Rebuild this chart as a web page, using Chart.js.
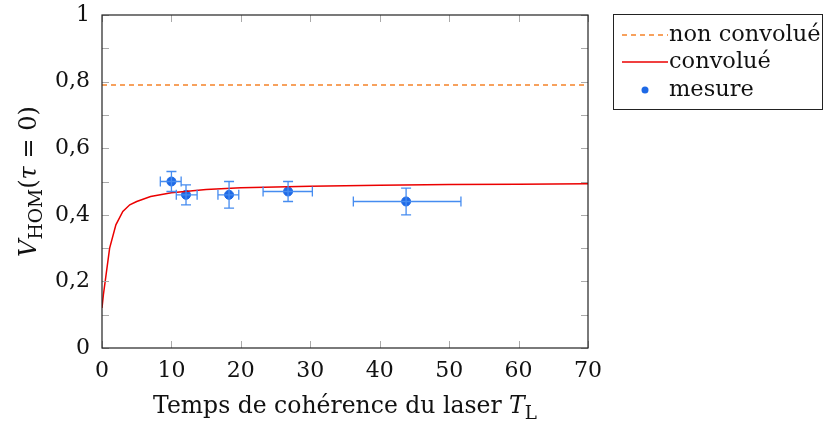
<!DOCTYPE html>
<html>
<head>
<meta charset="utf-8">
<script src="https://cdn.jsdelivr.net/npm/chart.js@4"></script>
<style>
  body { margin: 0; background: #fff; }
  #wrap { width: 825px; height: 427px; }
</style>
</head>
<body>
<div id="wrap"><canvas id="homChart"></canvas></div>
<script>
// values
const curveX = [0, 0.2, 1.1, 2, 3, 4, 5, 7, 10, 15, 20, 30, 40, 50, 60, 70];
const curveY = [0.12, 0.16, 0.30, 0.37, 0.41, 0.43, 0.44, 0.455, 0.466, 0.476, 0.481, 0.486, 0.489, 0.491, 0.492, 0.493];
const flatX = [0, 70];
const flatY = [0.79, 0.79];
const measX = [10.0, 12.1, 18.3, 26.8, 43.8];
const measY = [0.50, 0.46, 0.46, 0.47, 0.44];
const xErrLo = [8.4, 10.7, 16.7, 23.2, 36.2];
const xErrHi = [11.4, 13.7, 19.7, 30.3, 51.7];
const yErrLo = [0.47, 0.43, 0.42, 0.44, 0.40];
const yErrHi = [0.53, 0.49, 0.50, 0.50, 0.48];
const legendLabels = ['non convolué', 'convolué', 'mesure'];

const SERIF = '"DejaVu Serif", serif';
const ORANGE = 'rgb(245,130,40)';
const RED = 'rgb(235,0,0)';
const BLUE = 'rgb(30,105,230)';
const BLUE_BAR = 'rgb(70,140,240)';

function pts(xs, ys) {
  return xs.map((x, i) => ({ x: x, y: ys[i] }));
}

// draw text made of parts (italic / subscript), centred at x
function drawRich(ctx, parts, x, y, size) {
  const fontOf = p => (p.italic ? 'italic ' : '') + (p.sub ? size * 0.78 : size) + 'px ' + SERIF;
  let total = 0;
  parts.forEach(p => { ctx.font = fontOf(p); total += ctx.measureText(p.t).width; });
  let cx = x - total / 2;
  ctx.textAlign = 'left';
  ctx.textBaseline = 'alphabetic';
  parts.forEach(p => {
    ctx.font = fontOf(p);
    ctx.fillText(p.t, cx, p.sub ? y + size * 0.25 : y);
    cx += ctx.measureText(p.t).width;
  });
}

const errorBars = {
  id: 'errorBars',
  afterDatasetsDraw(chart) {
    const ctx = chart.ctx, xs = chart.scales.x, ys = chart.scales.y;
    ctx.save();
    ctx.strokeStyle = BLUE_BAR;
    ctx.lineWidth = 1.3;
    measX.forEach((mx, i) => {
      const px = xs.getPixelForValue(mx), py = ys.getPixelForValue(measY[i]);
      const x0 = xs.getPixelForValue(xErrLo[i]), x1 = xs.getPixelForValue(xErrHi[i]);
      const y0 = ys.getPixelForValue(yErrLo[i]), y1 = ys.getPixelForValue(yErrHi[i]);
      ctx.beginPath();
      ctx.moveTo(x0, py); ctx.lineTo(x1, py);
      ctx.moveTo(x0, py - 5); ctx.lineTo(x0, py + 5);
      ctx.moveTo(x1, py - 5); ctx.lineTo(x1, py + 5);
      ctx.moveTo(px, y0); ctx.lineTo(px, y1);
      ctx.moveTo(px - 5, y0); ctx.lineTo(px + 5, y0);
      ctx.moveTo(px - 5, y1); ctx.lineTo(px + 5, y1);
      ctx.stroke();
    });
    ctx.restore();
  }
};

const frame = {
  id: 'frame',
  afterDraw(chart) {
    const ctx = chart.ctx, a = chart.chartArea, xs = chart.scales.x, ys = chart.scales.y;
    ctx.save();
    // inward ticks on all sides
    ctx.strokeStyle = '#aaa';
    ctx.lineWidth = 1;
    ctx.beginPath();
    xs.ticks.forEach(t => {
      const p = Math.round(xs.getPixelForValue(t.value)) + 0.5;
      ctx.moveTo(p, a.bottom); ctx.lineTo(p, a.bottom - 7);
      ctx.moveTo(p, a.top); ctx.lineTo(p, a.top + 7);
    });
    ys.ticks.forEach(t => {
      const p = Math.round(ys.getPixelForValue(t.value)) + 0.5;
      ctx.moveTo(a.left, p); ctx.lineTo(a.left + 7, p);
      ctx.moveTo(a.right, p); ctx.lineTo(a.right - 7, p);
    });
    ctx.stroke();
    ctx.strokeStyle = '#222';
    ctx.lineWidth = 1.2;
    ctx.strokeRect(a.left, a.top, a.right - a.left, a.bottom - a.top);

    // axis titles
    ctx.fillStyle = '#111';
    drawRich(ctx, [{ t: 'Temps de cohérence du laser ' }, { t: 'T', italic: true }, { t: 'L', sub: true }],
      (a.left + a.right) / 2, 413, 23.5);
    ctx.save();
    ctx.translate(36, (a.top + a.bottom) / 2);
    ctx.rotate(-Math.PI / 2);
    drawRich(ctx, [{ t: 'V', italic: true }, { t: 'HOM', sub: true }, { t: '(' }, { t: 'τ', italic: true }, { t: ' = 0)' }],
      0, 0, 24);
    ctx.restore();

    // legend
    const lx = 613, ly = 14;
    ctx.fillStyle = '#fff';
    ctx.fillRect(lx, ly, 209, 95);
    ctx.strokeStyle = '#222';
    ctx.lineWidth = 1;
    ctx.strokeRect(lx + 0.5, ly + 0.5, 209, 95);
    const rows = [35, 62, 90];
    ctx.lineWidth = 1.5;
    ctx.strokeStyle = ORANGE;
    ctx.setLineDash([5, 4]);
    ctx.beginPath(); ctx.moveTo(622, rows[0]); ctx.lineTo(668, rows[0]); ctx.stroke();
    ctx.setLineDash([]);
    ctx.strokeStyle = RED;
    ctx.beginPath(); ctx.moveTo(622, rows[1]); ctx.lineTo(668, rows[1]); ctx.stroke();
    ctx.fillStyle = BLUE;
    ctx.beginPath(); ctx.arc(645, rows[2], 3.5, 0, Math.PI * 2); ctx.fill();
    ctx.fillStyle = '#111';
    ctx.font = '22.5px ' + SERIF;
    ctx.textAlign = 'left';
    ctx.textBaseline = 'middle';
    legendLabels.forEach((l, i) => ctx.fillText(l, 669, rows[i]));
    ctx.restore();
  }
};

const chart = new Chart(document.getElementById('homChart'), {
  type: 'scatter',
  data: {
    datasets: [{
      label: legendLabels[0],
      data: pts(flatX, flatY),
      showLine: true,
      borderColor: ORANGE,
      borderWidth: 1.5,
      borderDash: [5, 4],
      pointRadius: 0
    }, {
      label: legendLabels[1],
      data: pts(curveX, curveY),
      showLine: true,
      borderColor: RED,
      borderWidth: 1.5,
      tension: 0,
      pointRadius: 0
    }, {
      label: legendLabels[2],
      data: pts(measX, measY),
      backgroundColor: BLUE,
      borderColor: BLUE,
      pointRadius: 4.5
    }]
  },
  options: {
    responsive: true,
    maintainAspectRatio: false,
    animation: false,
    layout: { padding: { top: 15, right: 237, left: 0, bottom: 0 } },
    plugins: { legend: { display: false }, tooltip: { enabled: false } },
    scales: {
      x: {
        type: 'linear', min: 0, max: 70,
        grid: { display: false },
        border: { display: false },
        ticks: { stepSize: 10, color: '#111', font: { family: SERIF, size: 22 }, padding: 2, maxRotation: 0 },
        afterFit: s => { s.height = 79; s.paddingLeft = 0; s.paddingRight = 0; }
      },
      y: {
        type: 'linear', min: 0, max: 1,
        grid: { display: false },
        border: { display: false },
        ticks: {
          stepSize: 0.1, color: '#111', font: { family: SERIF, size: 22 }, padding: 4,
          callback: v => {
            const r = Math.round(v * 10);
            if (r % 2) return '';
            return (r / 10).toString().replace('.', ',');
          }
        },
        afterFit: s => { s.width = 102; s.paddingTop = 0; s.paddingBottom = 0; }
      }
    }
  },
  plugins: [errorBars, frame]
});
</script>
</body>
</html>
